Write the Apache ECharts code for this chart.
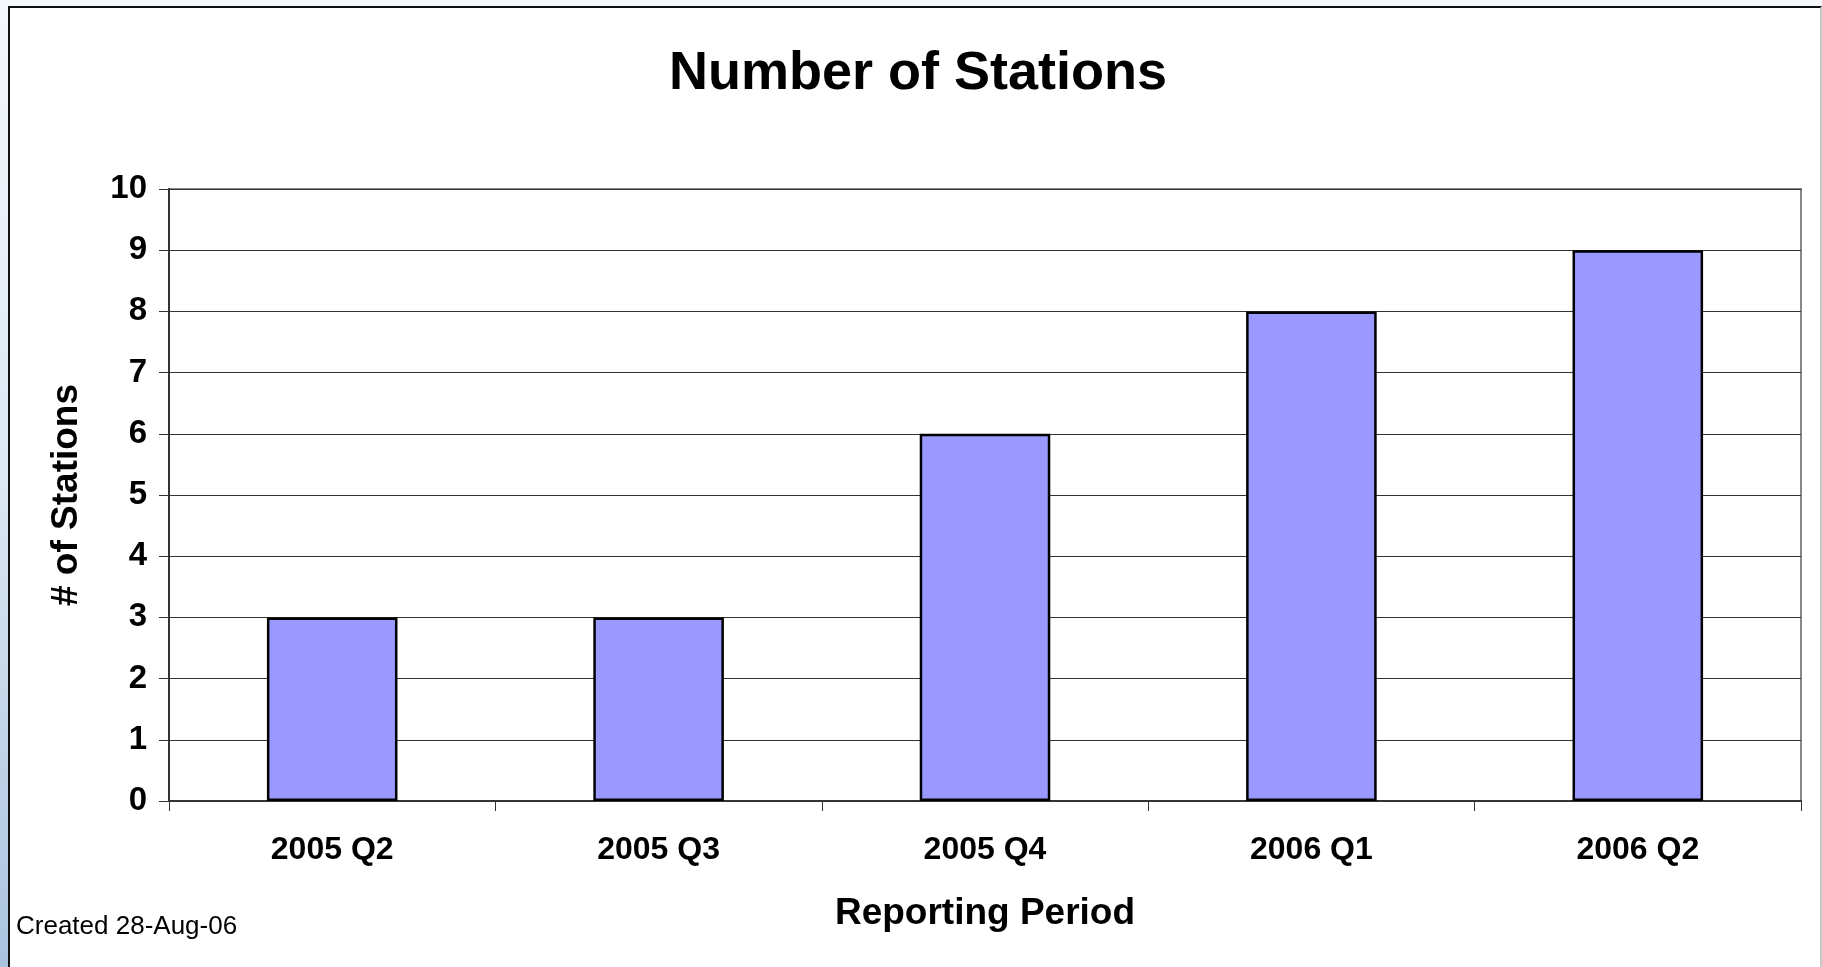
<!DOCTYPE html>
<html>
<head>
<meta charset="utf-8">
<title>Number of Stations</title>
<script src="https://cdn.jsdelivr.net/npm/echarts@6/dist/echarts.min.js"></script>
<style>
  html, body { margin: 0; padding: 0; }
  body {
    width: 1822px; height: 967px; overflow: hidden; position: relative;
    background: linear-gradient(to bottom, #f4f7fb 0%, #dce7f2 50%, #a9c3df 100%);
  }
  #frame {
    position: absolute; left: 8px; top: 6px; width: 1810px; height: 961px;
    background: #fff;
    border-top: 2px solid #111; border-left: 2px solid #111; border-right: 2px solid #c8c8c8;
  }
  #main { position: absolute; left: 0; top: 0; width: 1822px; height: 967px; }
</style>
</head>
<body>
<div id="frame"></div>
<div id="main"></div>
<script>
// 各季度站点数量
var periods = ['2005 Q2', '2005 Q3', '2005 Q4', '2006 Q1', '2006 Q2'];
var stations = [3, 3, 6, 8, 9];

var font = "'Liberation Sans', Arial, sans-serif";

var myChart = echarts.init(document.getElementById('main'));
var option = {
  backgroundColor: 'transparent',
  animation: false,
  title: {
    text: 'Number of Stations',
    left: 664,
    top: 42,
    textStyle: { fontFamily: font, fontSize: 54, fontWeight: 'bold', color: '#000' }
  },
  grid: {
    left: 169, right: 21, top: 189, bottom: 166,
    show: true, borderColor: '#888', borderWidth: 2, backgroundColor: '#fff'
  },
  xAxis: {
    type: 'category',
    data: periods,
    name: 'Reporting Period',
    nameLocation: 'middle',
    nameGap: 94,
    nameTextStyle: { fontFamily: font, fontSize: 37, fontWeight: 'bold', color: '#000' },
    axisLine: { lineStyle: { color: '#333', width: 2 } },
    axisTick: { show: true, length: 10, lineStyle: { color: '#333', width: 1 } },
    axisLabel: { margin: 33, fontFamily: font, fontSize: 32, fontWeight: 'bold', color: '#000' }
  },
  yAxis: {
    type: 'value',
    min: 0, max: 10, interval: 1,
    name: '# of Stations',
    nameLocation: 'middle',
    nameGap: 84,
    nameTextStyle: { fontFamily: font, fontSize: 37, fontWeight: 'bold', color: '#000' },
    axisLine: { show: true, lineStyle: { color: '#333', width: 2 } },
    axisTick: { show: true, length: 10, lineStyle: { color: '#333', width: 1 } },
    axisLabel: { margin: 22, fontFamily: font, fontSize: 33, fontWeight: 'bold', color: '#000' },
    splitLine: { show: true, lineStyle: { color: '#333', width: 1 } }
  },
  series: [{
    name: '# of Stations',
    type: 'bar',
    data: stations,
    barWidth: '40%',
    itemStyle: { color: '#9999ff', borderColor: '#000', borderWidth: 2.5 }
  }],
  graphic: [{
    type: 'text',
    left: 16,
    top: 914,
    style: { text: 'Created 28-Aug-06', font: '26px ' + font, fill: '#000' }
  }]
};
myChart.setOption(option);
window.onresize = function () {
  myChart.resize();
};
</script>
</body>
</html>
